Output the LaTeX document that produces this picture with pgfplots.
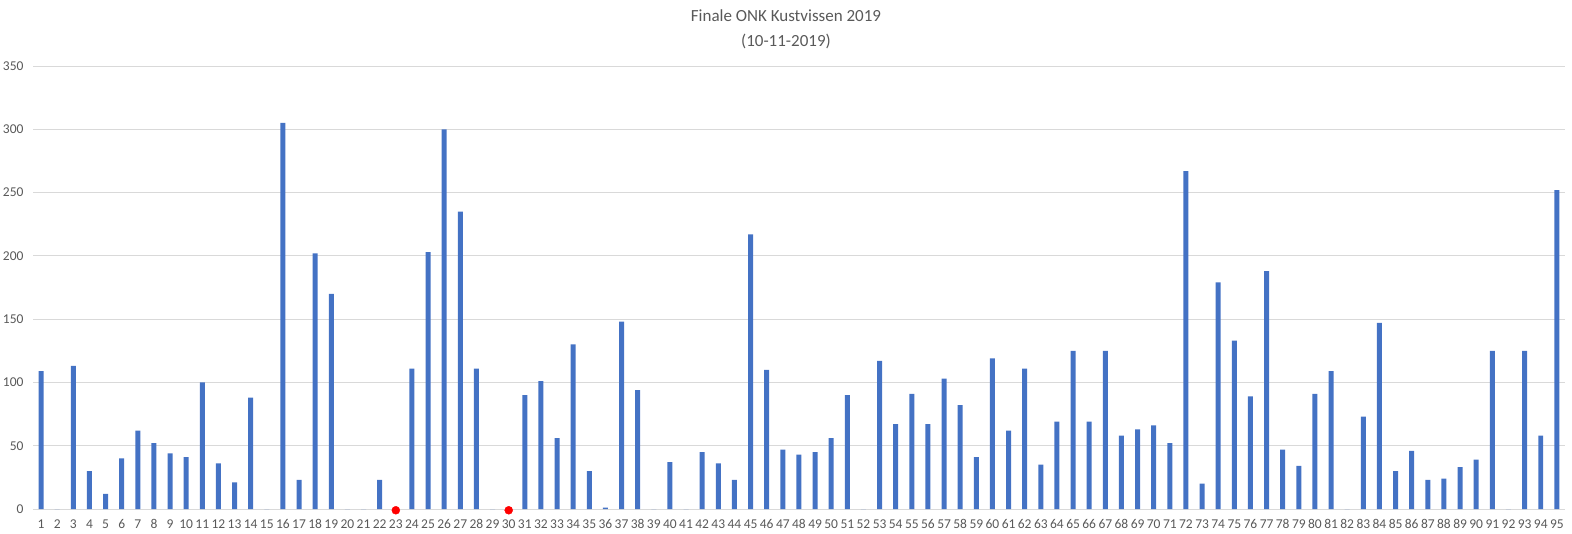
\documentclass[border=0pt]{standalone}
\usepackage{fontspec}
\setmainfont{Carlito}
\usepackage{pgfplots}
\pgfplotsset{compat=1.18}
\usepackage{pgfplotstable}
\definecolor{barblue}{HTML}{4472C4}
\definecolor{txt}{HTML}{595959}
\definecolor{gridc}{HTML}{D9D9D9}

\pgfplotstableread{
x y
1 109
2 0
3 113
4 30
5 12
6 40
7 62
8 52
9 44
10 41
11 100
12 36
13 21
14 88
15 0
16 305
17 23
18 202
19 170
20 0
21 0
22 23
23 0
24 111
25 203
26 300
27 235
28 111
29 0
30 0
31 90
32 101
33 56
34 130
35 30
36 1
37 148
38 94
39 0
40 37
41 0
42 45
43 36
44 23
45 217
46 110
47 47
48 43
49 45
50 56
51 90
52 0
53 117
54 67
55 91
56 67
57 103
58 82
59 41
60 119
61 62
62 111
63 35
64 69
65 125
66 69
67 125
68 58
69 63
70 66
71 52
72 267
73 20
74 179
75 133
76 89
77 188
78 47
79 34
80 91
81 109
82 0
83 73
84 147
85 30
86 46
87 23
88 24
89 33
90 39
91 125
92 0
93 125
94 58
95 252
}\data

\begin{document}
\begin{tikzpicture}
\path[use as bounding box] (-33pt,-24pt) rectangle (1539pt,509pt);
\begin{axis}[
  at={(0pt,0pt)}, anchor=south west,
  scale only axis, width=1532pt, height=443pt,
  xmin=0.5, xmax=95.5, ymin=0, ymax=350,
  ytick={0,50,...,350}, xtick={1,...,95},
  ymajorgrids, grid style={gridc, line width=0.75pt},
  axis line style={draw=none},
  major tick length=0pt,
  tick label style={font=\fontsize{13.5}{15}\selectfont, text=txt},
  /pgf/number format/assume math mode=true,
  yticklabel style={xshift=-6pt},
  xticklabel style={anchor=north, text height=9pt, text depth=0pt, yshift=-7pt},
  clip=false,
  title={Finale ONK Kustvissen 2019\\(10-11-2019)},
  title style={at={(axis description cs:0.4915,1)}, anchor=south, align=center,
    font=\fontsize{17}{25}\selectfont, text=txt, yshift=8pt},
]
\addplot[ybar, bar width=0.31, fill=barblue, draw=none] table[x=x,y=y]{\data};
\addplot[only marks, mark=*, mark size=4pt, red] coordinates {(23,-1) (30,-1)};
\end{axis}
\end{tikzpicture}
\end{document}
